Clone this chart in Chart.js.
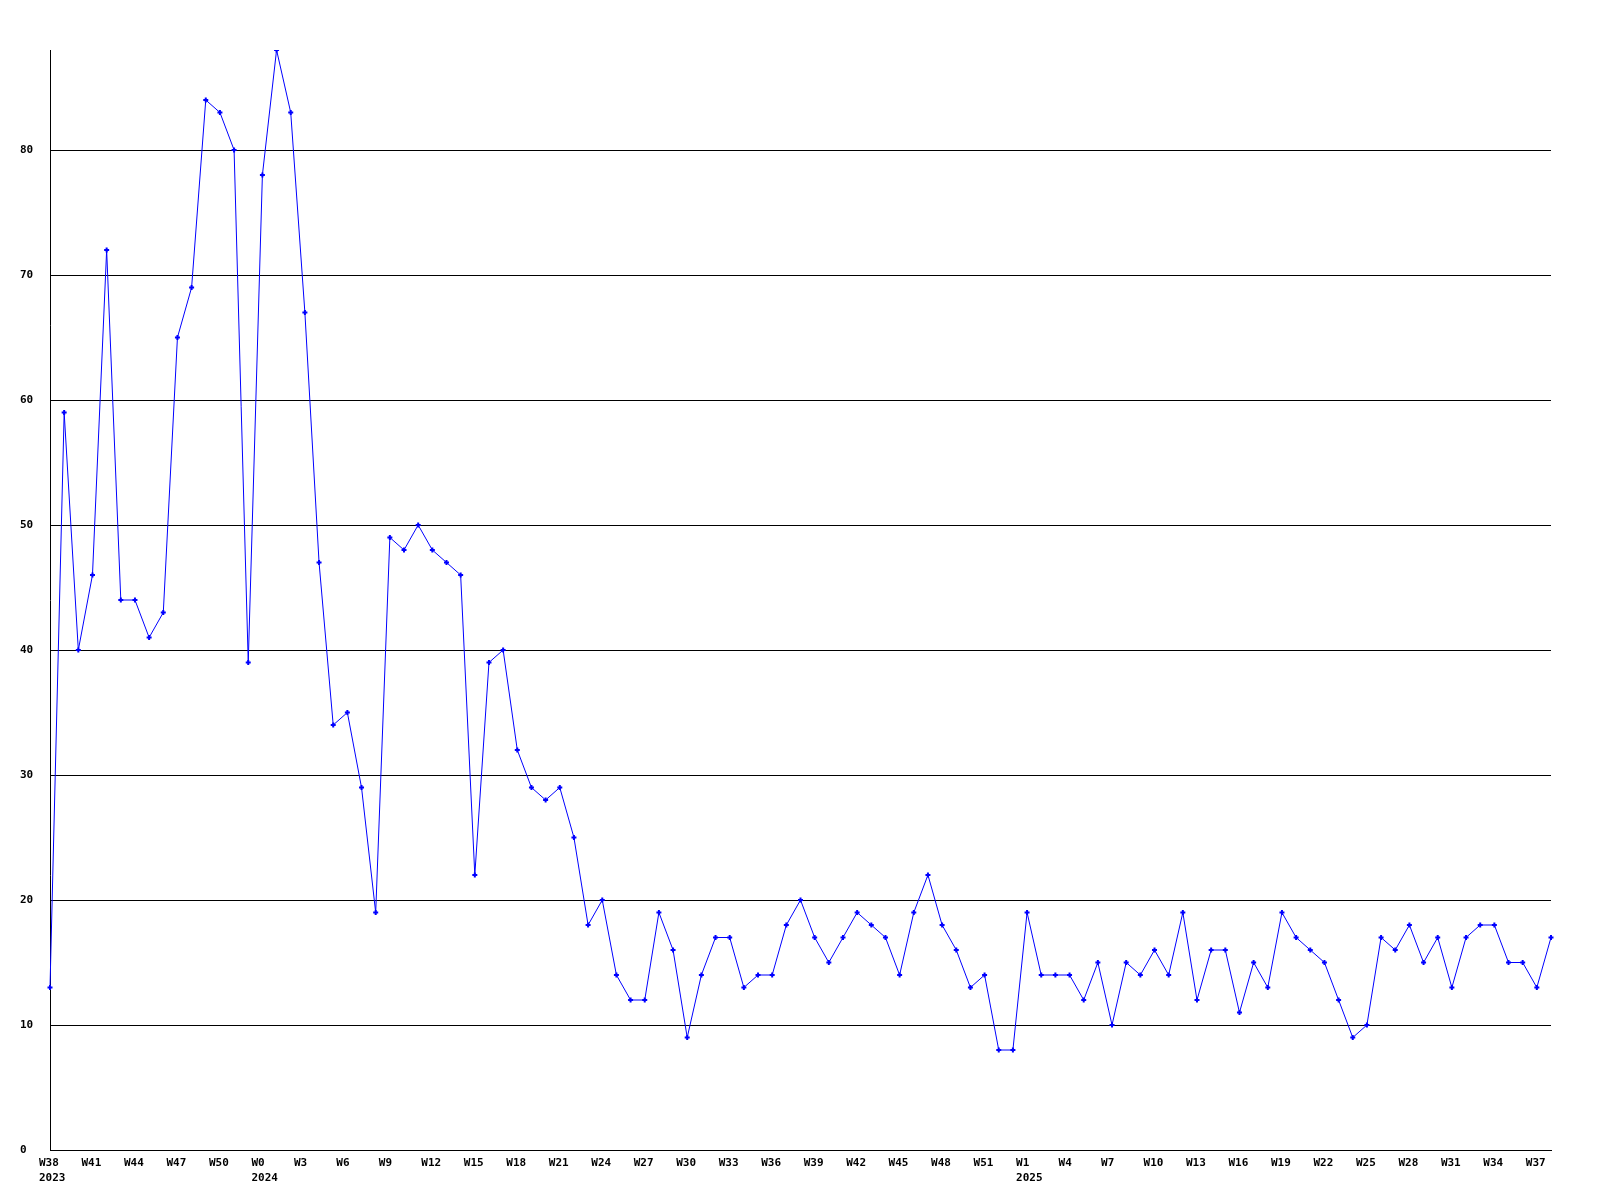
<!DOCTYPE html>
<html>
<head>
<meta charset="utf-8">
<script src="https://cdn.jsdelivr.net/npm/chart.js@4"></script>
<style>
  html, body { margin: 0; padding: 0; background: #fff; }
  #wrap { width: 1600px; height: 1200px; }
</style>
</head>
<body>
<div id="wrap"><canvas id="weekChart"></canvas></div>
<script>
// weeks per year, as printed on the x axis
const weeks2023 = [38, 39, 40, 41, 42, 43, 44, 45, 46, 47, 48, 49, 50, 51, 52];
const weeks2024 = [0, 1, 2, 3, 4, 5, 6, 7, 8, 9, 10, 11, 12, 13, 14, 15, 16, 17, 18, 19, 20,
    21, 22, 23, 24, 25, 26, 27, 28, 29, 30, 31, 32, 33, 34, 35, 36, 37, 38, 39, 40,
    41, 42, 43, 44, 45, 46, 47, 48, 49, 50, 51, 52];
const weeks2025 = [0, 1, 2, 3, 4, 5, 6, 7, 8, 9, 10, 11, 12, 13, 14, 15, 16, 17, 18, 19, 20,
    21, 22, 23, 24, 25, 26, 27, 28, 29, 30, 31, 32, 33, 34, 35, 36, 37, 38];

const values2023 = [13, 59, 40, 46, 72, 44, 44, 41, 43, 65, 69, 84, 83, 80, 39];
const values2024 = [78, 88, 83, 67, 47, 34, 35, 29, 19, 49, 48, 50, 48, 47, 46, 22, 39, 40,
    32, 29, 28, 29, 25, 18, 20, 14, 12, 12, 19, 16, 9, 14, 17, 17, 13, 14, 14, 18, 20, 17,
    15, 17, 19, 18, 17, 14, 19, 22, 18, 16, 13, 14, 8];
const values2025 = [8, 19, 14, 14, 14, 12, 15, 10, 15, 14, 16, 14, 19, 12, 16, 16, 11, 15,
    13, 19, 17, 16, 15, 12, 9, 10, 17, 16, 18, 15, 17, 13, 17, 18, 18, 15, 15, 13, 17];

const yTicks = [0, 10, 20, 30, 40, 50, 60, 70, 80];
const yMax = 88;

const labels = [];
const labelYears = [];
[[2023, weeks2023], [2024, weeks2024], [2025, weeks2025]].forEach(([yr, wks]) => {
    wks.forEach(w => { labels.push('W' + w); labelYears.push(yr); });
});
const values = values2023.concat(values2024, values2025);

const font = { family: '"DejaVu Sans Mono", monospace', size: 11, weight: 'bold', lineHeight: 1.36 };

window.onload = () => {
    const ctx = document.getElementById('weekChart').getContext('2d');
    new Chart(ctx, {
        type: 'line',
        data: {
            labels: labels,
            datasets: [{
                data: values,
                borderColor: '#0000ff',
                borderWidth: 1,
                tension: 0,
                fill: false,
                pointStyle: 'cross',
                pointRadius: 2.5,
                pointBorderWidth: 2,
                pointBorderColor: '#0000ff',
                pointBackgroundColor: '#0000ff'
            }]
        },
        options: {
            responsive: true,
            maintainAspectRatio: false,
            animation: false,
            events: [],
            layout: { padding: { top: 50, left: 20, right: 49, bottom: 0 } },
            plugins: { legend: { display: false }, tooltip: { enabled: false } },
            scales: {
                x: {
                    offset: false,
                    grid: { display: false, drawTicks: false },
                    border: { display: true, color: '#000', width: 1 },
                    afterFit: s => { s.height = 50; },
                    ticks: {
                        autoSkip: false,
                        maxRotation: 0,
                        minRotation: 0,
                        align: 'start',
                        labelOffset: -11,
                        padding: 6,
                        color: '#000',
                        font: font,
                        callback: (v, i) => {
                            if (i % 3 !== 0) return '';
                            const prev = i - 3;
                            if (prev < 0 || labelYears[prev] !== labelYears[i]) {
                                return [labels[i], String(labelYears[i])];
                            }
                            return labels[i];
                        }
                    }
                },
                y: {
                    min: 0,
                    max: yMax,
                    afterFit: s => { s.width = 30; },
                    afterBuildTicks: s => { s.ticks = yTicks.map(v => ({ value: v })); },
                    grid: { color: '#000', lineWidth: 1, drawTicks: false },
                    border: { display: true, color: '#000', width: 1 },
                    ticks: {
                        crossAlign: 'far',
                        padding: 17,
                        color: '#000',
                        font: font
                    }
                }
            }
        }
    });
};
</script>
</body>
</html>
